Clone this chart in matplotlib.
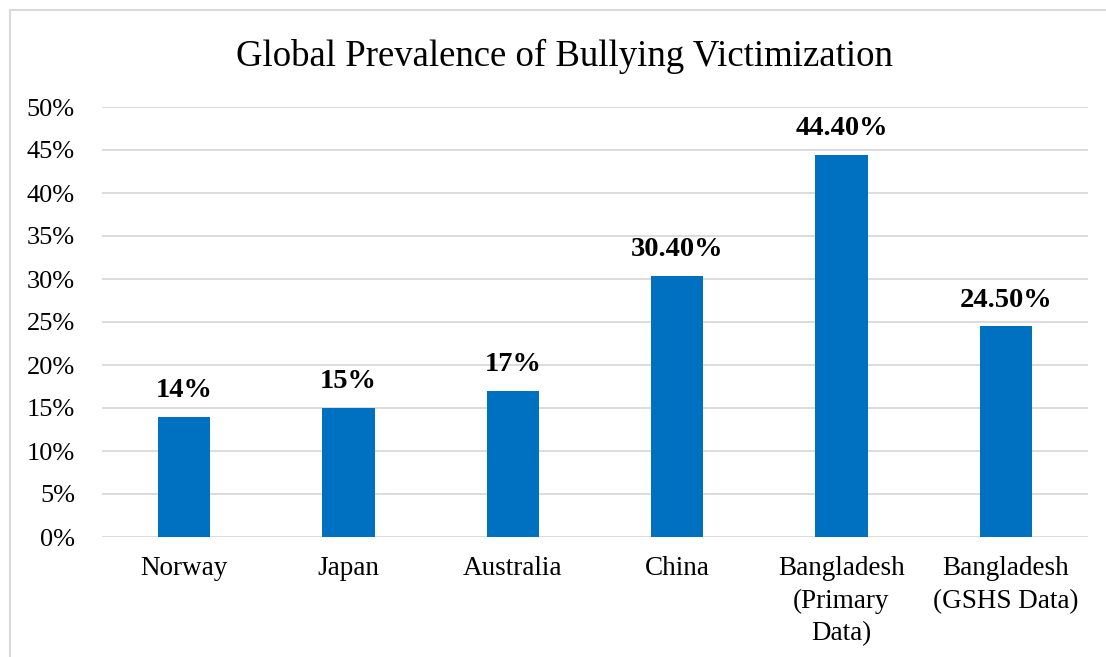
import matplotlib.pyplot as plt
from matplotlib.patches import Rectangle
from matplotlib.ticker import FuncFormatter, MultipleLocator

categories = ['Norway', 'Japan', 'Australia', 'China',
              'Bangladesh\n(Primary\nData)', 'Bangladesh\n(GSHS Data)']
values = [14, 15, 17, 30.4, 44.4, 24.5]
value_labels = ['14%', '15%', '17%', '30.40%', '44.40%', '24.50%']

plt.rcParams['font.family'] = ['Liberation Serif', 'DejaVu Serif']

fig = plt.figure(figsize=(11.06, 6.57), dpi=100)
ax = fig.add_axes([102 / 1106, 1 - 537 / 657, 986 / 1106, 430 / 657])

# outer chart border (left/top visible only)
fig.patches.append(Rectangle((10 / 1106, -0.1), 1.2, (657 - 10) / 657 + 0.1,
                             transform=fig.transFigure, fill=False,
                             edgecolor='#D9D9D9', linewidth=1.5))

x = range(len(categories))
ax.bar(x, values, width=0.32, color='#0070C0', zorder=3)
for xi, v, lab in zip(x, values, value_labels):
    ax.text(xi, v + 1.6, lab, ha='center', va='bottom',
            fontsize=20.5, fontweight='bold', color='black')

ax.set_xlim(-0.5, len(categories) - 0.5)
ax.set_ylim(0, 50)
ax.yaxis.set_major_locator(MultipleLocator(5))
ax.yaxis.set_major_formatter(FuncFormatter(lambda v, p: f'{v:.0f}%'))
ax.set_xticks(list(x))
ax.set_xticklabels(categories, fontsize=19.5, linespacing=1.38)
ax.tick_params(axis='y', labelsize=19, length=0, pad=19.5)
ax.tick_params(axis='x', length=0, pad=14)
ax.grid(axis='y', color='#D9D9D9', linewidth=1.3, zorder=0)
for s in ax.spines.values():
    s.set_visible(False)

fig.text(564 / 1106, 1 - 56 / 657, 'Global Prevalence of Bullying Victimization',
         ha='center', va='center', fontsize=26.5)

fig.savefig('out.png', dpi=100)
